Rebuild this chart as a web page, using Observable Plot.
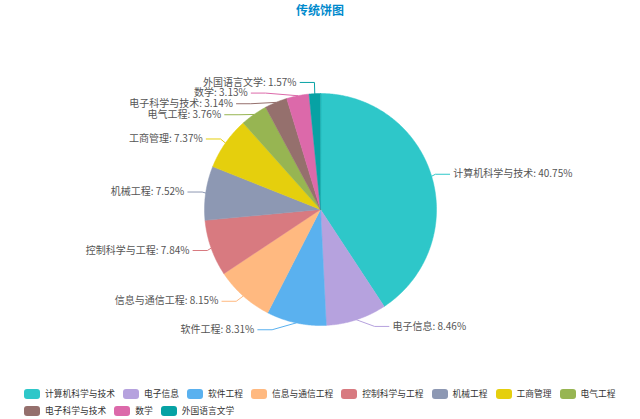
<!DOCTYPE html>
<html>
<head>
<meta charset="utf-8">
<script src="https://cdn.jsdelivr.net/npm/d3@7"></script>
<script src="https://cdn.jsdelivr.net/npm/@observablehq/plot@0.6"></script>
<style>
  html, body { margin: 0; padding: 0; background: #fff; }
  body { width: 640px; height: 419px; overflow: hidden; font-family: "Noto Sans CJK SC", sans-serif; }
  #title { height: 20px; line-height: 20px; text-align: center; font-size: 12px; font-weight: bold; color: #008acd; }
  #chart { height: 360px; }
  #legend { margin: 8.5px 0 0 24px; width: 600px; display: flex; flex-wrap: wrap; column-gap: 8px; row-gap: 7px; }
  .item { display: flex; align-items: center; height: 10px; }
  .sw { width: 16px; height: 10px; border-radius: 3px; margin-right: 5px; }
  .lt { font-size: 8.75px; line-height: 10px; color: #333; white-space: nowrap; }
</style>
</head>
<body>
<div id="title">传统饼图</div>
<div id="chart"></div>
<div id="legend"></div>
<script>
// ---- data ----
const categories = ["计算机科学与技术", "电子信息", "软件工程", "信息与通信工程", "控制科学与工程", "机械工程", "工商管理", "电气工程", "电子科学与技术", "数学", "外国语言文学"];
const shares = [40.75, 8.46, 8.31, 8.15, 7.84, 7.52, 7.37, 3.76, 3.14, 3.13, 1.57];
const palette = ["#2ec7c9", "#b6a2de", "#5ab1ef", "#ffb980", "#d87a80", "#8d98b3", "#e5cf0d", "#97b552", "#95706d", "#dc69aa", "#07a2a4"];

// ---- layout constants (ECharts-like pie label layout) ----
const R = 116, LEN1 = 7, LEN2 = 14.3, GAP = 3.55, LH = 10.65, STEP = 7.1;
const VIEW_TOP = -209, VIEW_BOTTOM = 210;

const arcs = d3.pie().sort(null).value(d => d)(shares);

// slice polygons (y up in data space)
const slicePts = [];
arcs.forEach((a, i) => {
  const name = categories[i];
  slicePts.push({name, x: 0, y: 0});
  const n = Math.max(2, Math.ceil((a.endAngle - a.startAngle) / 0.008));
  for (let k = 0; k <= n; k++) {
    const t = a.startAngle + (a.endAngle - a.startAngle) * k / n;
    slicePts.push({name, x: R * Math.sin(t), y: R * Math.cos(t)});
  }
});

// labels (screen coords, y down, relative to centre)
const labels = arcs.map((a, i) => {
  const mid = (a.startAngle + a.endAngle) / 2;
  const dx = Math.sin(mid), dy = -Math.cos(mid);
  const side = dx < 0 ? -1 : 1;
  const x2 = (R + LEN1) * dx, y2 = (R + LEN1) * dy;
  const x3 = x2 + side * LEN2;
  return {
    name: categories[i],
    text: `${categories[i]}: ${shares[i].toFixed(2)}%`,
    side, x: x3 + side * GAP, y: y2, p1: [R * dx, R * dy]
  };
});

function adjustSide(list, dir) {
  list.sort((a, b) => a.y - b.y);
  const len = list.length;
  function shiftUp(end, delta) {
    for (let j = end; j >= 0; j--) {
      if (list[j].y - delta < VIEW_TOP) break;
      list[j].y -= delta;
      if (j > 0 && list[j].y > list[j - 1].y + LH) break;
    }
  }
  function shiftDown(start, end, delta) {
    for (let j = start; j < end; j++) {
      if (list[j].y + delta > VIEW_BOTTOM) break;
      list[j].y += delta;
      if (j > start && j + 1 < end && list[j + 1].y > list[j].y + LH) {
        shiftUp(j, delta / 2);
        return;
      }
    }
    shiftUp(end - 1, delta / 2);
  }
  let lastY = VIEW_TOP;
  for (let i = 0; i < len; i++) {
    const delta = list[i].y - lastY;
    if (delta < 0) shiftDown(i, len, -delta);
    lastY = list[i].y + LH;
  }
  if (VIEW_BOTTOM - lastY < 0) shiftUp(len - 1, lastY - VIEW_BOTTOM);
  const up = list.filter(d => d.y < 0), down = list.filter(d => d.y >= 0);
  function changeX(items, isDown) {
    let last = isDown ? Infinity : 0;
    for (const it of items) {
      const deltaY = Math.abs(it.y);
      let deltaX = deltaY < R + LEN1
        ? Math.sqrt((R + LEN1 + LEN2) ** 2 - deltaY ** 2)
        : Math.abs(it.x);
      if (isDown && deltaX >= last) deltaX = last - STEP;
      if (!isDown && deltaX <= last) deltaX = last + STEP;
      it.x = deltaX * dir;
      last = deltaX;
    }
  }
  changeX(up, false);
  changeX(down, true);
}
const leftL = labels.filter(d => d.x < 0), rightL = labels.filter(d => d.x >= 0);
adjustSide(rightL, 1);
adjustSide(leftL, -1);

const linePts = [];
labels.forEach(l => {
  const l2x = l.x - l.side * GAP, l1x = l2x - l.side * LEN2;
  linePts.push({name: l.name, x: l.p1[0], y: -l.p1[1]});
  linePts.push({name: l.name, x: l1x, y: -l.y});
  linePts.push({name: l.name, x: l2x, y: -l.y});
});
const textL = labels.filter(l => l.side < 0).map(l => ({...l, yy: -l.y}));
const textR = labels.filter(l => l.side > 0).map(l => ({...l, yy: -l.y}));

const font = '"Noto Sans CJK SC", sans-serif';
const chart = Plot.plot({
  width: 640, height: 360, margin: 0,
  style: {fontFamily: font, background: "#fff"},
  x: {domain: [-320, 320], axis: null},
  y: {domain: [-171, 189], axis: null},
  color: {domain: categories, range: palette},
  marks: [
    Plot.line(slicePts, {x: "x", y: "y", z: "name", fill: "name", stroke: "name", strokeWidth: 0.5, curve: "linear-closed"}),
    Plot.line(linePts, {x: "x", y: "y", z: "name", stroke: "name", strokeWidth: 1}),
    Plot.text(textL, {x: "x", y: "yy", text: "text", textAnchor: "end", fontSize: 10, fill: "#555", fontFamily: font}),
    Plot.text(textR, {x: "x", y: "yy", text: "text", textAnchor: "start", fontSize: 10, fill: "#555", fontFamily: font})
  ]
});
document.getElementById("chart").appendChild(chart);

// legend
const lg = d3.select("#legend");
categories.forEach((c, i) => {
  const it = lg.append("div").attr("class", "item");
  it.append("div").attr("class", "sw").style("background", palette[i]);
  it.append("div").attr("class", "lt").text(c);
});
</script>
</body>
</html>
